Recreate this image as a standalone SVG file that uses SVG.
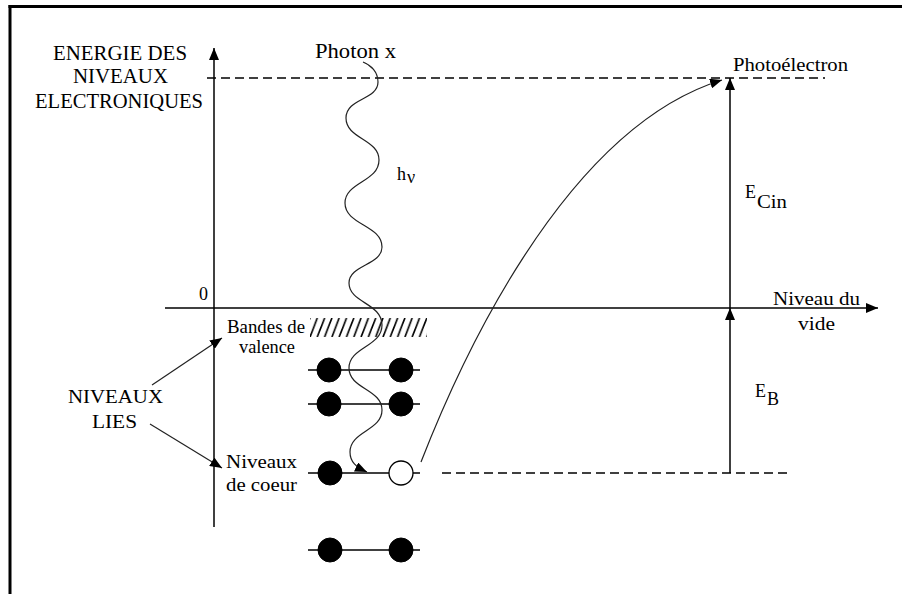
<svg xmlns="http://www.w3.org/2000/svg" width="902" height="594" viewBox="0 0 902 594">
<style>
text{fill:#000}
.big{font-size:20px;font-family:'Liberation Serif',serif}
.mid{font-size:18px;font-family:'Liberation Serif',serif}
.ln{stroke:#000;stroke-width:1.5;fill:none}
.thin{stroke:#222;stroke-width:1.2;fill:none}
.dash{stroke:#000;stroke-width:1.5;stroke-dasharray:9 5;fill:none}
.full{fill:#000;stroke:#000;stroke-width:1}
.empty{fill:#fff;stroke:#000;stroke-width:1.3}
</style>
<defs>
<marker id="ah" viewBox="0 0 12 10" refX="12" refY="5" markerWidth="12" markerHeight="10" markerUnits="userSpaceOnUse" orient="auto">
<path d="M0,0 L12,5 L0,10 Z" fill="#000"/>
</marker>
<pattern id="hatch" patternUnits="userSpaceOnUse" x="310" y="318" width="7.3" height="19">
<path d="M-7.3,19 L0,0 M0,19 L7.3,0 M7.3,19 L14.6,0" stroke="#000" stroke-width="1.6"/>
</pattern>
</defs>
<rect width="902" height="594" fill="#fff"/>
<g id="frame">
<line x1="8.5" y1="6.5" x2="902" y2="6.5" stroke="#000" stroke-width="3"/>
<line x1="10" y1="5" x2="10" y2="594" stroke="#000" stroke-width="3"/>
</g>
<g id="axes">
<line class="ln" x1="214" y1="527" x2="214" y2="48" marker-end="url(#ah)"/>
<line class="ln" x1="165" y1="308" x2="878" y2="308" marker-end="url(#ah)"/>
<line class="dash" x1="207" y1="78" x2="825" y2="78"/>
<line class="dash" x1="442" y1="473" x2="792" y2="473"/>
</g>
<g id="energy-label">
<text class="big" font-family="Liberation Serif" x="53" y="60" textLength="134" lengthAdjust="spacingAndGlyphs">ENERGIE DES</text>
<text class="big" font-family="Liberation Serif" x="73" y="83" textLength="95" lengthAdjust="spacingAndGlyphs">NIVEAUX</text>
<text class="big" font-family="Liberation Serif" x="35" y="108" textLength="168" lengthAdjust="spacingAndGlyphs">ELECTRONIQUES</text>
<text class="mid" font-family="Liberation Serif" x="199" y="300">0</text>
</g>
<g id="photon">
<text class="big" font-family="Liberation Serif" x="315" y="58" textLength="81" lengthAdjust="spacingAndGlyphs">Photon x</text>
<text class="mid" font-family="Liberation Serif" x="397" y="180">h</text>
<text class="mid" font-family="Liberation Serif" x="407" y="183">ν</text>
</g>
<g id="vacuum-level">
<text class="mid" font-family="Liberation Serif" x="773" y="305" textLength="87" lengthAdjust="spacingAndGlyphs">Niveau du</text>
<text class="mid" font-family="Liberation Serif" x="798" y="330" textLength="37" lengthAdjust="spacingAndGlyphs">vide</text>
</g>
<g id="photoelectron">
<text class="mid" font-family="Liberation Serif" x="733" y="71" textLength="115" lengthAdjust="spacingAndGlyphs">Photoélectron</text>
</g>
<g id="ecin">
<text class="mid" font-family="Liberation Serif" x="745" y="198">E</text>
<text class="mid" font-family="Liberation Serif" x="757" y="208" textLength="30" lengthAdjust="spacingAndGlyphs">Cin</text>
</g>
<g id="eb">
<text class="mid" font-family="Liberation Serif" x="755" y="397">E</text>
<text class="mid" font-family="Liberation Serif" x="767" y="405">B</text>
</g>
<g id="valence">
<text class="mid" font-family="Liberation Serif" x="227" y="333" textLength="78" lengthAdjust="spacingAndGlyphs">Bandes de</text>
<text class="mid" font-family="Liberation Serif" x="239" y="353" textLength="56" lengthAdjust="spacingAndGlyphs">valence</text>
<rect x="310" y="318" width="117" height="19" fill="url(#hatch)"/>
</g>
<g id="core">
<text class="mid" font-family="Liberation Serif" x="226" y="468" textLength="71" lengthAdjust="spacingAndGlyphs">Niveaux</text>
<text class="mid" font-family="Liberation Serif" x="226" y="491" textLength="71" lengthAdjust="spacingAndGlyphs">de coeur</text>
</g>
<g id="bound-levels">
<text class="mid" font-family="Liberation Serif" x="68" y="403" textLength="95" lengthAdjust="spacingAndGlyphs">NIVEAUX</text>
<text class="mid" font-family="Liberation Serif" x="92" y="428" textLength="45" lengthAdjust="spacingAndGlyphs">LIES</text>
</g>
<g id="electrons">
<line class="ln" x1="308" y1="370" x2="420" y2="370"/>
<circle class="full" cx="329" cy="370" r="12"/>
<circle class="full" cx="401" cy="370" r="12"/>
<line class="ln" x1="308" y1="404" x2="420" y2="404"/>
<circle class="full" cx="329" cy="404" r="12"/>
<circle class="full" cx="401" cy="404" r="12"/>
<line class="ln" x1="308" y1="473" x2="420" y2="473"/>
<circle class="full" cx="330" cy="473" r="12"/>
<circle class="empty" cx="401" cy="473" r="12"/>
<line class="ln" x1="308" y1="550" x2="420" y2="550"/>
<circle class="full" cx="330" cy="550" r="12"/>
<circle class="full" cx="401" cy="550" r="12"/>
</g>
<g id="connectors">
<line class="thin" x1="152" y1="385" x2="222" y2="338" marker-end="url(#ah)"/>
<line class="thin" x1="150" y1="424" x2="222" y2="468" marker-end="url(#ah)"/>
<path class="thin" d="M363,62 C371,65 378,72 378,82 C378,100 346,98 346,118 C346,139 379,139 379,160 C379,182 345,182 345,203 C345,225 382,225 382,247 C382,265 349,265 349,283 C349,303 382,303 382,325 C382,347 349,347 349,368 C349,389 382,389 382,410 C382,431 350,431 350,452 C350,462 356,467 367,472" marker-end="url(#ah)"/>
<path class="thin" d="M421,462 C455,375 560,130 722,80" marker-end="url(#ah)"/>
<line class="ln" x1="730" y1="473" x2="730" y2="308" marker-end="url(#ah)"/>
<line class="ln" x1="730" y1="308" x2="730" y2="78" marker-end="url(#ah)"/>
</g>
</svg>
